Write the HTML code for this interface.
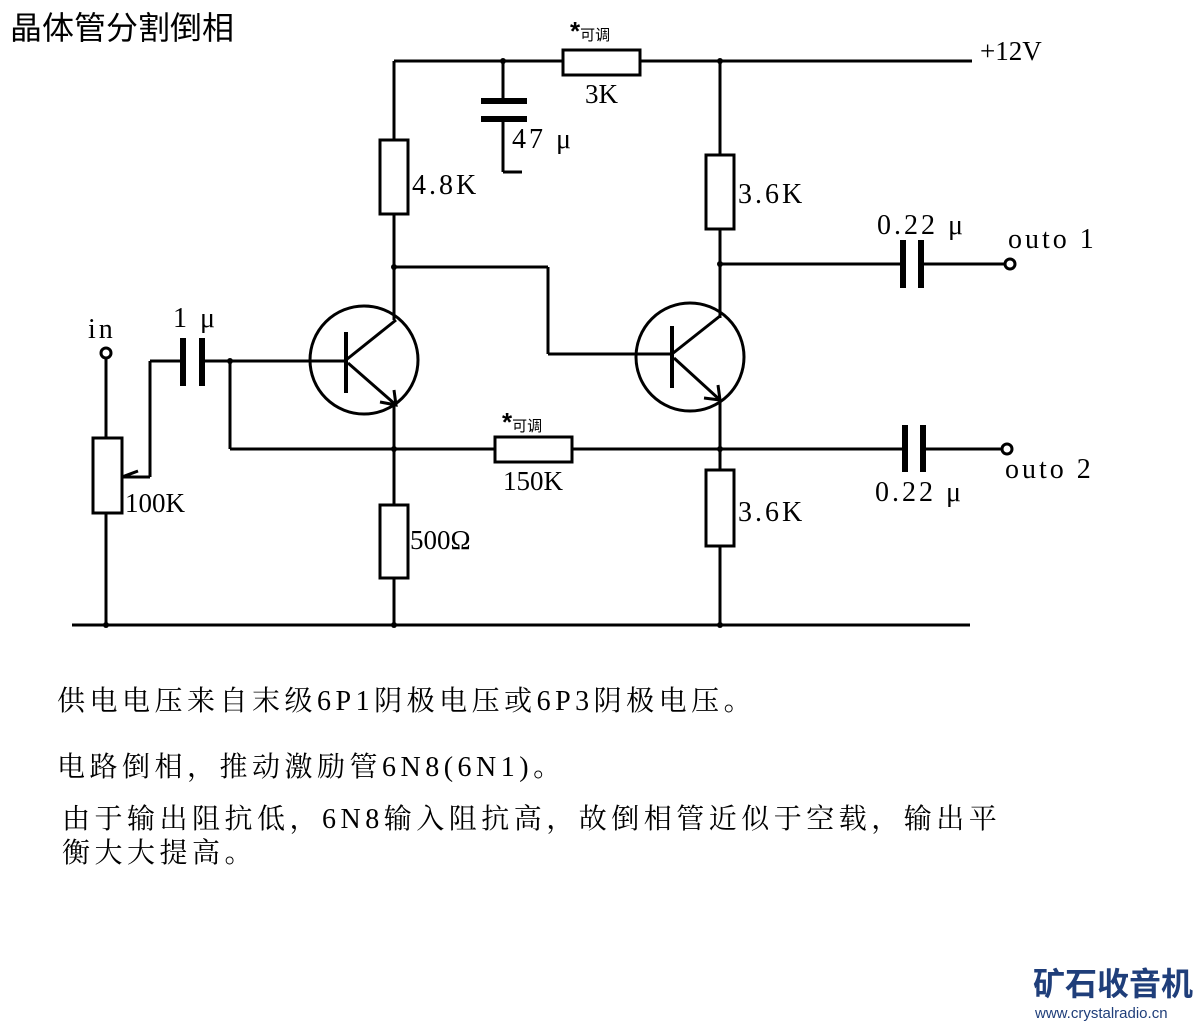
<!DOCTYPE html>
<html><head><meta charset="utf-8"><style>
body{margin:0;background:#fff;width:1200px;height:1024px;overflow:hidden}
svg{display:block}
.l{font-family:"Liberation Serif","Noto Serif CJK SC",serif;font-size:27px;fill:#000}
.c{font-family:"Liberation Serif","Noto Serif CJK SC",serif;font-size:28px;fill:#000;letter-spacing:3px}
</style></head><body>
<svg width="1200" height="1024" viewBox="0 0 1200 1024">
<g stroke="#000" stroke-width="3" fill="none">
<line x1="394" y1="61" x2="563" y2="61"/><line x1="640" y1="61" x2="972" y2="61"/>
<rect x="563" y="50" width="77" height="25" fill="#fff"/>
<line x1="503" y1="61" x2="503" y2="101"/><line x1="503" y1="119" x2="503" y2="172"/><line x1="503" y1="172" x2="522" y2="172"/>
<line x1="481" y1="101" x2="527" y2="101" stroke-width="6"/><line x1="481" y1="119" x2="527" y2="119" stroke-width="6"/>
<line x1="394" y1="61" x2="394" y2="140"/><rect x="380" y="140" width="28" height="74"/>
<line x1="394" y1="214" x2="394" y2="320"/>
<line x1="394" y1="267" x2="548" y2="267"/><line x1="548" y1="267" x2="548" y2="354"/><line x1="548" y1="354" x2="672" y2="354"/>
<circle cx="364" cy="360" r="54"/>
<line x1="346" y1="332" x2="346" y2="393" stroke-width="4"/>
<line x1="230" y1="361" x2="346" y2="361"/>
<line x1="346" y1="360" x2="396" y2="320"/>
<line x1="348" y1="363" x2="396" y2="405"/>
<polyline points="380,402 396,405 394,390"/>
<line x1="394" y1="405" x2="394" y2="505"/>
<rect x="380" y="505" width="28" height="73"/><line x1="394" y1="578" x2="394" y2="625"/>
<line x1="720" y1="61" x2="720" y2="155"/><rect x="706" y="155" width="28" height="74"/>
<line x1="720" y1="229" x2="720" y2="318"/>
<line x1="720" y1="264" x2="903" y2="264"/><line x1="921" y1="264" x2="1005" y2="264"/>
<line x1="903" y1="240" x2="903" y2="288" stroke-width="6"/><line x1="921" y1="240" x2="921" y2="288" stroke-width="6"/>
<circle cx="1010" cy="264" r="5"/>
<circle cx="690" cy="357" r="54"/>
<line x1="672" y1="326" x2="672" y2="388" stroke-width="4"/>
<line x1="672" y1="354" x2="720" y2="316"/>
<line x1="674" y1="358" x2="720" y2="400"/>
<polyline points="704,398 720,400 718,385"/>
<line x1="720" y1="400" x2="720" y2="470"/>
<rect x="706" y="470" width="28" height="76"/><line x1="720" y1="546" x2="720" y2="625"/>
<line x1="230" y1="361" x2="230" y2="449"/><line x1="230" y1="449" x2="495" y2="449"/>
<rect x="495" y="437" width="77" height="25"/>
<line x1="572" y1="449" x2="905" y2="449"/><line x1="923" y1="449" x2="1002" y2="449"/>
<line x1="905" y1="425" x2="905" y2="472" stroke-width="6"/><line x1="923" y1="425" x2="923" y2="472" stroke-width="6"/>
<circle cx="1007" cy="449" r="5"/>
<circle cx="106" cy="353" r="5"/>
<line x1="106" y1="358" x2="106" y2="438"/><rect x="93" y="438" width="29" height="75"/>
<line x1="106" y1="513" x2="106" y2="625"/>
<line x1="150" y1="477" x2="122" y2="477"/><line x1="122" y1="477" x2="138" y2="471"/>
<line x1="150" y1="477" x2="150" y2="361"/><line x1="150" y1="361" x2="183" y2="361"/>
<line x1="202" y1="361" x2="230" y2="361"/>
<line x1="183" y1="338" x2="183" y2="386" stroke-width="6"/><line x1="202" y1="338" x2="202" y2="386" stroke-width="6"/>
<line x1="72" y1="625" x2="970" y2="625"/>
</g>
<g fill="#000">
<circle cx="503" cy="61" r="3"/><circle cx="720" cy="61" r="3"/><circle cx="394" cy="267" r="3"/>
<circle cx="720" cy="264" r="3"/><circle cx="720" cy="449" r="3"/><circle cx="394" cy="449" r="3"/>
<circle cx="230" cy="361" r="3"/><circle cx="106" cy="625" r="3"/><circle cx="394" cy="625" r="3"/><circle cx="720" cy="625" r="3"/>
</g>
<text x="10" y="39" style="font-family:'Liberation Sans','Noto Sans CJK SC',sans-serif;font-size:32px">晶体管分割倒相</text>
<text x="980" y="60" class="l">+12V</text>
<text x="570" y="40" style="font-family:'Liberation Sans','Noto Sans CJK SC',sans-serif;font-size:15px"><tspan font-size="26" font-weight="bold">*</tspan>可调</text>
<text x="585" y="103" class="l">3K</text>
<text x="512" y="148" class="c">47 μ</text>
<text x="412" y="194" class="c">4.8K</text>
<text x="738" y="203" class="c">3.6K</text>
<text x="877" y="234" class="c">0.22 μ</text>
<text x="1008" y="248" class="c">outo 1</text>
<text x="88" y="338" class="c">in</text>
<text x="173" y="327" class="c">1 μ</text>
<text x="502" y="431" style="font-family:'Liberation Sans','Noto Sans CJK SC',sans-serif;font-size:15px"><tspan font-size="26" font-weight="bold">*</tspan>可调</text>
<text x="503" y="490" class="l">150K</text>
<text x="1005" y="478" class="c">outo 2</text>
<text x="875" y="501" class="c">0.22 μ</text>
<text x="125" y="512" class="l">100K</text>
<text x="738" y="521" class="c">3.6K</text>
<text x="410" y="549" class="l">500Ω</text>
<g style="font-family:'Liberation Serif','Noto Serif CJK SC',serif;font-size:28px;letter-spacing:4.5px">
<text x="57" y="710">供电电压来自末级6P1阴极电压或6P3阴极电压。</text>
<text x="57" y="776">电路倒相，推动激励管6N8(6N1)。</text>
<text x="62" y="828">由于输出阻抗低，6N8输入阻抗高，故倒相管近似于空载，输出平</text>
<text x="62" y="862">衡大大提高。</text>
</g>
<text x="1033" y="995" style="font-family:'Noto Sans CJK SC',sans-serif;font-size:32px;font-weight:bold;fill:#1f3e7a">矿石收音机</text>
<text x="1035" y="1018" style="font-family:'Liberation Sans',sans-serif;font-size:15px;fill:#1f3e7a">www.crystalradio.cn</text>
</svg>
</body></html>
